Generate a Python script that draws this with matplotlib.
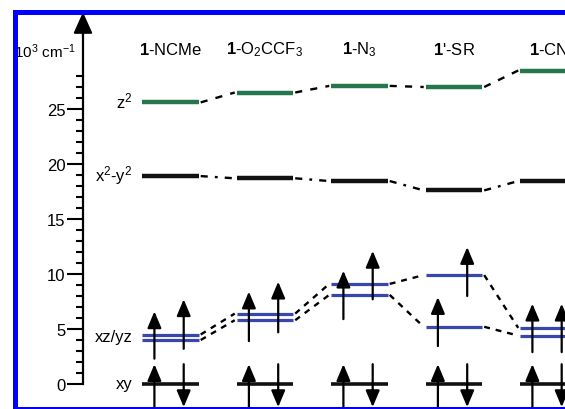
import matplotlib
matplotlib.use("Agg")
import matplotlib.pyplot as plt
from matplotlib.patches import Rectangle

plt.rcParams['font.family'] = ['Liberation Sans', 'DejaVu Sans']
plt.rcParams['mathtext.fontset'] = 'custom'
plt.rcParams['mathtext.rm'] = 'Liberation Sans'
plt.rcParams['mathtext.it'] = 'Liberation Sans:italic'
plt.rcParams['mathtext.bf'] = 'Liberation Sans:bold'

# complexes (columns) and d-orbital energies in 10^3 cm-1
complexes = [r"$\mathbf{1}$-NCMe", r"$\mathbf{1}$-O$_2$CCF$_3$", r"$\mathbf{1}$-N$_3$",
             r"$\mathbf{1}$'-SR", r"$\mathbf{1}$-CN"]
z2 = [25.6, 26.5, 27.1, 27.0, 28.5]
x2y2 = [18.9, 18.7, 18.45, 17.6, 18.45]
xzyz_hi = [4.5, 6.4, 9.1, 9.9, 5.1]
xzyz_lo = [4.0, 5.8, 8.1, 5.2, 4.4]
xy = [0, 0, 0, 0, 0]

# electrons: (column, side, tail, tip)   side -1 = left, +1 = right
xy_spins = [(i, s, t, h) for i in range(5) for s, t, h in [(-1, -2.6, 1.8), (1, 1.8, -2.1)]]
xz_spins = [
    (0, -1, 2.3, 6.6), (0, 1, 3.2, 7.7),
    (1, -1, 3.9, 8.4), (1, 1, 4.7, 9.3),
    (2, -1, 5.9, 10.3), (2, 1, 7.7, 12.1),
    (3, -1, 3.45, 7.9), (3, 1, 8.0, 12.45),
    (4, -1, 2.9, 7.3), (4, 1, 2.9, 7.3),
]
orbital_labels = [r"z$^2$", r"x$^2$-y$^2$", "xz/yz", "xy"]
label_y = [25.8, 19.0, 4.3, 0]

green = "#24774c"
blue = "#3747ad"
half_w = 0.30
side_off = {-1: -0.17, 1: 0.14}
cols = list(range(len(complexes)))

fig = plt.figure(figsize=(5.65, 4.10), dpi=100)
ax = fig.add_axes([0, 0, 1, 1])
ax.set_xlim(-1.804, 4.175)
ax.set_ylim(-25 / 11, 35.0)
ax.patch.set_alpha(0)

# energy axis
ax_x = -0.926
for s in ["top", "right", "bottom"]:
    ax.spines[s].set_visible(False)
ax.spines["left"].set_position(("data", ax_x))
ax.spines["left"].set_bounds(0, 32)
ax.spines["left"].set_linewidth(1.6)
ax.set_yticks(range(0, 30, 5))
ax.set_yticks(range(0, 29), minor=True)
ax.tick_params(axis="y", which="major", length=11.5, width=1.5, labelsize=12, pad=1)
ax.tick_params(axis="y", which="minor", length=5, width=1.5)
ax.set_xticks([])
ax.annotate("", xy=(ax_x, 33.8), xytext=(ax_x, 31.5),
            arrowprops=dict(arrowstyle="-|>,head_length=1.0,head_width=0.45", mutation_scale=13,
                            lw=1.5, color="black", shrinkA=0, shrinkB=0))
ax.text(ax_x - 0.08, 30.3, r"10$^3$ cm$^{-1}$", ha="right", va="center", fontsize=11)

# column headers
for i, name in enumerate(complexes):
    ax.text(i, 30.45, name, ha="center", va="center", fontsize=12)

# orbital labels
for lab, y in zip(orbital_labels, label_y):
    ax.text(-0.40, y, lab, ha="right", va="center", fontsize=12)


def levels(vals, color, lw):
    for i, v in enumerate(vals):
        ax.plot([i - half_w, i + half_w], [v, v], color=color, lw=lw, solid_capstyle="butt", zorder=3)


def connect(vals, ls):
    for i in cols[:-1]:
        ax.plot([i + half_w + 0.02, i + 1 - half_w - 0.02], [vals[i], vals[i + 1]],
                color="black", lw=1.7, ls=ls, zorder=2)


levels(z2, green, 3.2)
levels(x2y2, "#111111", 3.2)
levels(xzyz_hi, blue, 2.3)
levels(xzyz_lo, blue, 2.3)
levels(xy, "#111111", 2.6)

connect(z2, (0, (3, 3.5)))
connect(x2y2, (0, (3, 3, 1.2, 3)))
connect(xzyz_hi, (0, (2.5, 2.5)))
connect(xzyz_lo, (0, (2.5, 2.5)))

for i, s, tail, tip in xy_spins + xz_spins:
    x = i + side_off[s]
    ax.annotate("", xy=(x, tip), xytext=(x, tail),
                arrowprops=dict(arrowstyle="-|>,head_length=1.0,head_width=0.42", mutation_scale=10,
                                lw=1.6, color="black", shrinkA=0, shrinkB=0), zorder=4)

# blue frame
frame = Rectangle((14.5 / 565, 0), 2, (410 - 12.5) / 410, transform=fig.transFigure,
                  fill=False, edgecolor="#0000ff", lw=3.6, zorder=10)
fig.patches.append(frame)

fig.savefig("out.png", dpi=100)
